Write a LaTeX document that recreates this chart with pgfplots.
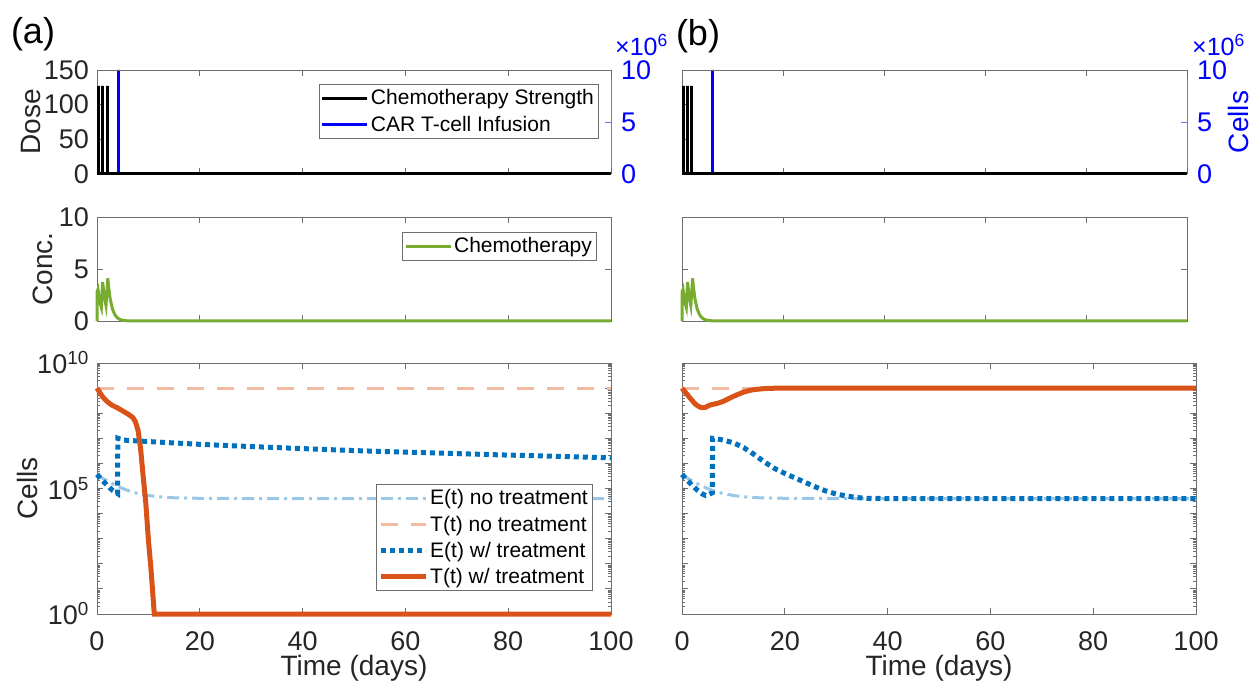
\documentclass[border=0pt]{standalone}
\usepackage{fontspec}
\setmainfont{Liberation Sans}
\usepackage{pgfplots}
\pgfplotsset{compat=1.18}

\definecolor{mblue}{RGB}{0,114,189}
\definecolor{morange}{RGB}{217,83,25}
\definecolor{mgreen}{RGB}{119,172,48}
\definecolor{lblue}{RGB}{153,199,229}
\definecolor{lorange}{RGB}{240,186,163}
\definecolor{axgray}{RGB}{110,110,110}
\definecolor{txt}{RGB}{38,38,38}
\definecolor{rblue}{RGB}{110,110,255}

\newcommand\tickfont{\fontsize{27}{32}\selectfont}
\newcommand\labfont{\fontsize{28}{33}\selectfont}
\newcommand\legfont{\fontsize{21}{25}\selectfont}

\pgfplotsset{
 base/.style={scale only axis, xmin=0, xmax=100, xtick={0,20,40,60,80,100},
   tick align=inside, clip=false,
   /pgf/number format/assume math mode=true,
   axis line style={axgray, line width=0.9pt},
   major tick length=6pt,
   every tick/.style={axgray, line width=0.9pt},
   tick label style={font=\tickfont, text=txt},
   xticklabel style={inner sep=0pt, yshift=-17pt},
   label style={font=\labfont, text=txt},
   legend cell align=left,
   legend image code/.code={\draw[##1] (0pt,0pt) -- (45pt,0pt);},
   legend style={font=\legfont, draw=axgray, fill=white, inner xsep=2pt, inner ysep=2pt,
     nodes={inner xsep=2pt, inner ysep=3.5pt}, row sep=2.5pt, anchor=north east, text=black},
 },
 leftlab/.style={yticklabel style={inner sep=0pt, xshift=-8pt}},
 chemo/.style={black, line width=3pt, line join=bevel},
 car/.style={blue, line width=3pt, line join=bevel},
 conc/.style={mgreen, line width=3pt},
 eno/.style={lblue, line width=3pt, dash pattern=on 12pt off 5pt on 3pt off 5pt},
 tno/.style={lorange, line width=3pt, dash pattern=on 17pt off 13pt},
 etr/.style={mblue, line width=5pt, dash pattern=on 5pt off 4pt},
 ttr/.style={morange, line width=5pt},
 rightax/.style={scale only axis, xmin=0, xmax=100, axis x line=none, axis y line*=right,
   ymin=0, ymax=10, ytick={0,5,10}, tick align=inside, clip=false,
   /pgf/number format/assume math mode=true,
   y axis line style={rblue, line width=0.9pt},
   major tick length=6pt,
   every tick/.style={rblue, line width=0.9pt},
   tick label style={font=\tickfont, text=blue},
   yticklabel style={inner sep=0pt, xshift=10pt}},
}

\begin{document}
\begin{tikzpicture}
\useasboundingbox (0pt,0pt) rectangle (1257pt,686pt);

\node[font=\fontsize{36}{42}\selectfont, text=black] at (33pt,652pt) {(a)};
\node[font=\fontsize{36}{42}\selectfont, text=black] at (698pt,650pt) {(b)};

% ================= (a) top =================
\begin{axis}[rightax, at={(97pt,512pt)}, anchor=south west, width=514pt, height=104pt]
\addplot[car] coordinates {(0,0) (4.1,0) (4.1,10) (4.1,0) (100,0)};
\node[anchor=south west, inner sep=0pt, text=blue, font=\fontsize{25}{29}\selectfont, xshift=4pt, yshift=14pt] at (rel axis cs:1,1) {×10\textsuperscript{6}};
\end{axis}
\begin{axis}[base, leftlab, at={(97pt,512pt)}, anchor=south west, width=514pt, height=104pt,
  axis y line*=left, ymin=0, ymax=150, ytick={0,50,100,150}, xticklabels={},
  ylabel={Dose}, ylabel style={at={(axis description cs:-0.1284,0.5)}, anchor=center},
  legend style={at={(axis description cs:0.975,0.865)}}]
\addplot[chemo] coordinates {(0,0) (0.25,0) (0.25,127) (0.25,0) (1.1,0) (1.1,127) (1.1,0) (1.95,0) (1.95,127) (1.95,0) (100,0)};
\addlegendentry{Chemotherapy Strength}
\addlegendimage{car}
\addlegendentry{CAR T-cell Infusion}
\end{axis}

% ================= (a) middle =================
\begin{axis}[base, leftlab, at={(97pt,365pt)}, anchor=south west, width=514pt, height=104pt,
  ymin=0, ymax=10, ytick={0,5,10}, xticklabels={},
  ylabel={Conc.}, ylabel style={at={(axis description cs:-0.105,0.5)}, anchor=center},
  legend style={at={(axis description cs:0.971,0.856)}}]
\addplot[conc] coordinates {(0,0) (0.02,2.8) (0.2,3.05) (0.4,2.3) (0.6,1.74) (0.85,1.3) (1.1,3.75) (1.3,2.83) (1.5,2.14) (1.75,1.5) (2.1,4.1) (2.3,3.1) (2.6,2.04) (3.0,1.16) (3.5,0.58) (4.0,0.29) (4.5,0.14) (5.0,0.07) (5.5,0.035) (6.0,0.017) (7,0.004) (8,0) (100,0)};
\addlegendentry{Chemotherapy}
\end{axis}

% ================= (a) bottom =================
\begin{axis}[base, leftlab, at={(97pt,72pt)}, anchor=south west, width=514pt, height=251pt,
  ymode=log, ymin=1, ymax=1e10,
  ytick={1,1e1,1e2,1e3,1e4,1e5,1e6,1e7,1e8,1e9,1e10},
  yticklabels={10\textsuperscript{0},,,,,10\textsuperscript{5},,,,,10\textsuperscript{10}},
  xlabel={Time (days)}, xlabel style={at={(axis description cs:0.5,-0.218)}, anchor=center},
  ylabel={Cells}, ylabel style={at={(axis description cs:-0.136,0.5)}, anchor=center},
  legend style={at={(axis description cs:0.963,0.518)}}]
\addplot[eno] coordinates {(0,3.63e5) (1,2.63e5) (2,2.0e5) (3,1.55e5) (4,1.23e5) (5,1.0e5) (6,8.32e4) (7,7.08e4) (8,6.31e4) (10,5.25e4) (12,4.68e4) (15,4.27e4) (20,4.07e4) (30,3.98e4) (100,3.98e4)};
\addlegendentry{E(t) no treatment}
\addplot[tno] coordinates {(0,1e9) (100,1e9)};
\addlegendentry{T(t) no treatment}
\addplot[etr] coordinates {(0,3.63e5) (1,2.14e5) (2,1.32e5) (3,8.51e4) (4,6.31e4) (4.05,1e7) (5,8.51e6) (10,7.41e6) (20,5.75e6) (30,4.68e6) (40,3.89e6) (50,3.24e6) (60,2.82e6) (70,2.45e6) (80,2.14e6) (90,1.91e6) (100,1.66e6)};
\addlegendentry{E(t) w/ treatment}
\addplot[ttr] coordinates {(0,1e9) (0.5,6.92e8) (1,4.79e8) (1.5,3.63e8) (2,2.88e8) (2.5,2.40e8) (3,2.04e8) (3.5,1.82e8) (4,1.62e8) (4.5,1.41e8) (5,1.23e8) (5.5,1.07e8) (6,9.33e7) (6.5,7.94e7) (7,6.61e7) (7.5,4.47e7) (8,2.0e7) (8.5,3.55e6) (9,2.82e5) (9.5,2.51e4) (10,891) (10.5,63.1) (11,2.51) (11.15,1) (100,1)};
\addlegendentry{T(t) w/ treatment}
\end{axis}

% ================= (b) top =================
\begin{axis}[rightax, at={(682pt,512pt)}, anchor=south west, width=505pt, height=104pt,
  ylabel={Cells}, ylabel style={font=\labfont, text=blue, at={(axis description cs:1.101,0.5)}, anchor=center}]
\addplot[car] coordinates {(0,0) (5.95,0) (5.95,10) (5.95,0) (100,0)};
\node[anchor=south west, inner sep=0pt, text=blue, font=\fontsize{25}{29}\selectfont, xshift=5pt, yshift=14pt] at (rel axis cs:1,1) {×10\textsuperscript{6}};
\end{axis}
\begin{axis}[base, at={(682pt,512pt)}, anchor=south west, width=505pt, height=104pt,
  axis y line*=left, ymin=0, ymax=150, ytick={0,50,100,150}, xticklabels={}, yticklabels={}]
\addplot[chemo] coordinates {(0,0) (0.25,0) (0.25,127) (0.25,0) (1.1,0) (1.1,127) (1.1,0) (1.95,0) (1.95,127) (1.95,0) (100,0)};
\end{axis}

% ================= (b) middle =================
\begin{axis}[base, at={(682pt,365pt)}, anchor=south west, width=505pt, height=104pt,
  ymin=0, ymax=10, ytick={0,5,10}, xticklabels={}, yticklabels={}]
\addplot[conc] coordinates {(0,0) (0.02,2.8) (0.2,3.05) (0.4,2.3) (0.6,1.74) (0.85,1.3) (1.1,3.75) (1.3,2.83) (1.5,2.14) (1.75,1.5) (2.1,4.1) (2.3,3.1) (2.6,2.04) (3.0,1.16) (3.5,0.58) (4.0,0.29) (4.5,0.14) (5.0,0.07) (5.5,0.035) (6.0,0.017) (7,0.004) (8,0) (100,0)};
\end{axis}

% ================= (b) bottom =================
\begin{axis}[base, at={(682pt,72pt)}, anchor=south west, width=514pt, height=251pt,
  ymode=log, ymin=1, ymax=1e10,
  ytick={1,1e1,1e2,1e3,1e4,1e5,1e6,1e7,1e8,1e9,1e10}, yticklabels={},
  xlabel={Time (days)}, xlabel style={at={(axis description cs:0.5,-0.218)}, anchor=center}]
\addplot[eno] coordinates {(0,3.63e5) (1,2.63e5) (2,2.0e5) (3,1.55e5) (4,1.23e5) (5,1.0e5) (6,8.32e4) (7,7.08e4) (8,6.31e4) (10,5.25e4) (12,4.68e4) (15,4.27e4) (20,4.07e4) (30,3.98e4) (100,3.98e4)};
\addplot[tno] coordinates {(0,1e9) (100,1e9)};
\addplot[etr] coordinates {(0,3.63e5) (1,2.14e5) (2,1.32e5) (3,8.51e4) (4,6.03e4) (4.6,5.25e4) (5.2,5.75e4) (5.9,6.76e4) (5.95,1e7) (6.5,9.77e6) (8,8.51e6) (10,6.61e6) (12,4.27e6) (14,2.29e6) (16,1.15e6) (18,6.31e5) (20,3.98e5) (22,2.63e5) (24,1.74e5) (26,1.15e5) (28,7.94e4) (30,6.03e4) (32,5.01e4) (34,4.37e4) (36,4.07e4) (40,3.98e4) (100,3.98e4)};
\addplot[ttr] coordinates {(0,1e9) (0.5,7.41e8) (1,5.62e8) (1.5,4.17e8) (2,3.16e8) (2.5,2.40e8) (3,2.0e8) (3.5,1.74e8) (4,1.66e8) (4.5,1.70e8) (5,1.91e8) (5.5,2.14e8) (6,2.24e8) (7,2.51e8) (8,2.95e8) (9,3.72e8) (10,4.68e8) (11,5.75e8) (12,6.92e8) (13,7.94e8) (14,8.71e8) (16,9.55e8) (18,9.89e8) (20,1e9) (100,1e9)};
\end{axis}
\end{tikzpicture}
\end{document}
